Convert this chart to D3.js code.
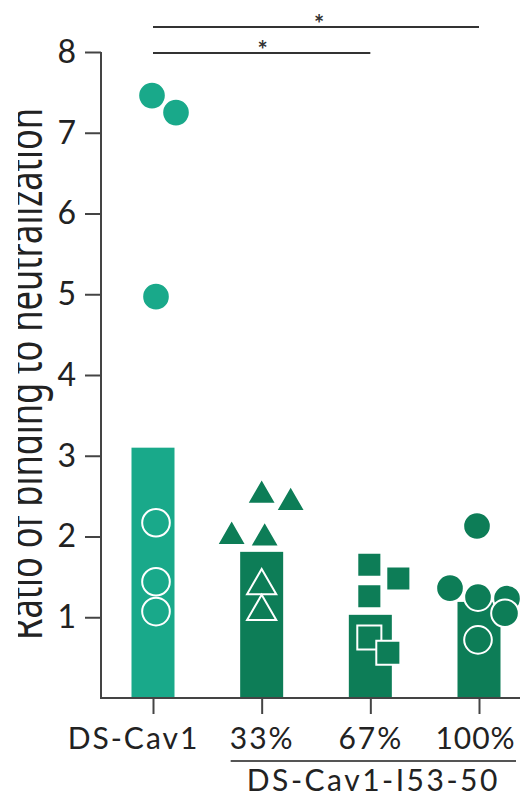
<!DOCTYPE html>
<html>
<head>
<meta charset="utf-8">
<script src="https://cdn.jsdelivr.net/npm/d3@7"></script>
<style>
  body { margin: 0; background: #fff; }
  svg { display: block; }
</style>
</head>
<body>
<svg id="chart" width="520" height="800"></svg>
<script>
// ---- data ----
const categories = ["DS-Cav1", "33%", "67%", "100%"];
const groupLabel = "DS-Cav1-I53-50";
const yTitle = "Ratio of binding to neutralization";
const yTicks = [1, 2, 3, 4, 5, 6, 7, 8];

// bar heights (geometric mean per group)
const barValues = [3.10, 1.81, 1.03, 1.19];

// individual animals, listed in drawing order
const dsCav1Values = [7.46, 7.25, 4.97, 2.17, 1.44, 1.07];
const pct33Values  = [2.51, 2.42, 2.00, 1.98, 1.39, 1.07];
const pct67Values  = [1.65, 1.48, 1.26, 0.75, 0.56];
const pct100Values = [2.13, 1.23, 1.36, 1.25, 1.05, 0.72];

// horizontal spread of the points around each category (px)
const dsCav1Jitter = [-1, 23, 3, 3, 3, 3];
const pct33Jitter  = [0, 29, -30, 3, 0, 0];
const pct67Jitter  = [-1, 28, -1, -1, 18];
const pct100Jitter = [-2, 28, -29, -1, 26, -1];

const comparisons = [
  { from: "DS-Cav1", to: "100%", label: "*" },
  { from: "DS-Cav1", to: "67%",  label: "*" }
];

// ---- styling ----
const colors = ["#19a98a", "#0d7d57", "#0d7d57", "#0d7d57"];
const symbols = [d3.symbolCircle, d3.symbolTriangle, d3.symbolSquare, d3.symbolCircle];
const symbolSizes = [600, 370, 580, 600];
const ink = "#222";
const fontFamily = "Lato, 'Noto Sans', sans-serif";

const groups = [
  { cat: categories[0], values: dsCav1Values, jitter: dsCav1Jitter },
  { cat: categories[1], values: pct33Values,  jitter: pct33Jitter },
  { cat: categories[2], values: pct67Values,  jitter: pct67Jitter },
  { cat: categories[3], values: pct100Values, jitter: pct100Jitter }
];

const svg = d3.select("#chart");

const x = d3.scalePoint().domain(categories).range([153, 479]);
const y = d3.scaleLinear().domain([0, 8]).range([698, 52]);
const barWidth = 43;
const axisX = 101;

// ---- bars ----
svg.append("g")
  .selectAll("rect")
  .data(categories)
  .join("rect")
  .attr("x", d => x(d) - barWidth / 2)
  .attr("width", barWidth)
  .attr("y", (d, i) => y(barValues[i]))
  .attr("height", (d, i) => y(0) - y(barValues[i]))
  .attr("fill", (d, i) => colors[i]);

// ---- individual points ----
groups.forEach((g, gi) => {
  const sym = d3.symbol().type(symbols[gi]).size(symbolSizes[gi]);
  svg.append("g")
    .selectAll("path")
    .data(g.values)
    .join("path")
    .attr("d", sym)
    .attr("transform", (v, i) => `translate(${x(g.cat) + g.jitter[i]},${y(v)})`)
    .attr("fill", colors[gi])
    .attr("stroke", "#fff")
    .attr("stroke-width", 2);
});

// ---- y axis ----
const yAxis = svg.append("g")
  .attr("transform", `translate(${axisX},0)`)
  .call(d3.axisLeft(y).tickValues(yTicks).tickSize(16).tickSizeOuter(0).tickPadding(9));
yAxis.select(".domain").remove();
yAxis.append("line")
  .attr("x1", 0).attr("x2", 0)
  .attr("y1", y(8)).attr("y2", y(0) + 1)
  .attr("stroke", "#444").attr("stroke-width", 2);
yAxis.selectAll(".tick line").attr("stroke", "#444").attr("stroke-width", 2);
yAxis.selectAll(".tick text")
  .attr("fill", ink)
  .style("font-family", fontFamily)
  .style("font-size", "32px");

// ---- x axis ----
const xAxis = svg.append("g")
  .attr("transform", `translate(0,${y(0)})`)
  .call(d3.axisBottom(x).tickSize(16).tickSizeOuter(0));
xAxis.select(".domain").remove();
xAxis.append("line")
  .attr("x1", axisX - 1).attr("x2", 530)
  .attr("y1", 0).attr("y2", 0)
  .attr("stroke", "#444").attr("stroke-width", 2);
xAxis.selectAll(".tick line").attr("stroke", "#444").attr("stroke-width", 2);
const labelShift = { "DS-Cav1": -20, "100%": -4 };
xAxis.selectAll(".tick text")
  .attr("fill", ink)
  .attr("y", 51)
  .attr("dy", 0)
  .attr("dx", d => labelShift[d] || 0)
  .style("font-family", fontFamily)
  .style("font-size", "30px")
  .style("letter-spacing", d => d === "100%" ? "1px" : "2px");

// group bracket under the nanoparticle doses
const subCats = categories.slice(1);
svg.append("line")
  .attr("x1", x(subCats[0]) - 31).attr("x2", x(subCats[subCats.length - 1]) + 37)
  .attr("y1", 761).attr("y2", 761)
  .attr("stroke", "#555").attr("stroke-width", 2);
svg.append("text")
  .attr("x", (x(subCats[0]) + x(subCats[subCats.length - 1])) / 2 + 3)
  .attr("y", 791)
  .attr("text-anchor", "middle")
  .attr("fill", ink)
  .style("font-family", fontFamily)
  .style("font-size", "30px")
  .style("letter-spacing", "2.5px")
  .text(groupLabel);

// ---- significance brackets ----
const sigY = [27, 53];
comparisons.forEach((c, i) => {
  const x1 = x(c.from), x2 = x(c.to);
  svg.append("line")
    .attr("x1", x1).attr("x2", x2)
    .attr("y1", sigY[i]).attr("y2", sigY[i])
    .attr("stroke", "#333").attr("stroke-width", 2.2);
  svg.append("text")
    .attr("x", i === 0 ? (x1 + x2) / 2 + 3 : (x1 + x2) / 2 + 1)
    .attr("y", sigY[i] + 6)
    .attr("text-anchor", "middle")
    .attr("fill", "#333")
    .style("font-family", fontFamily)
    .style("font-size", "24px")
    .style("font-weight", "bold")
    .text(c.label);
});

// ---- y title (left edge of the panel trims its ascenders) ----
svg.append("defs").append("clipPath").attr("id", "titleClip")
  .append("rect").attr("x", 18).attr("y", 0).attr("width", 60).attr("height", 800);
svg.append("g")
  .attr("clip-path", "url(#titleClip)")
  .append("text")
  .attr("transform", "translate(42,374) rotate(-90)")
  .attr("text-anchor", "middle")
  .attr("textLength", 532)
  .attr("lengthAdjust", "spacingAndGlyphs")
  .attr("fill", ink)
  .style("font-family", "'Noto Sans', sans-serif")
  .style("font-size", "48px")
  .text(yTitle);
</script>
</body>
</html>
